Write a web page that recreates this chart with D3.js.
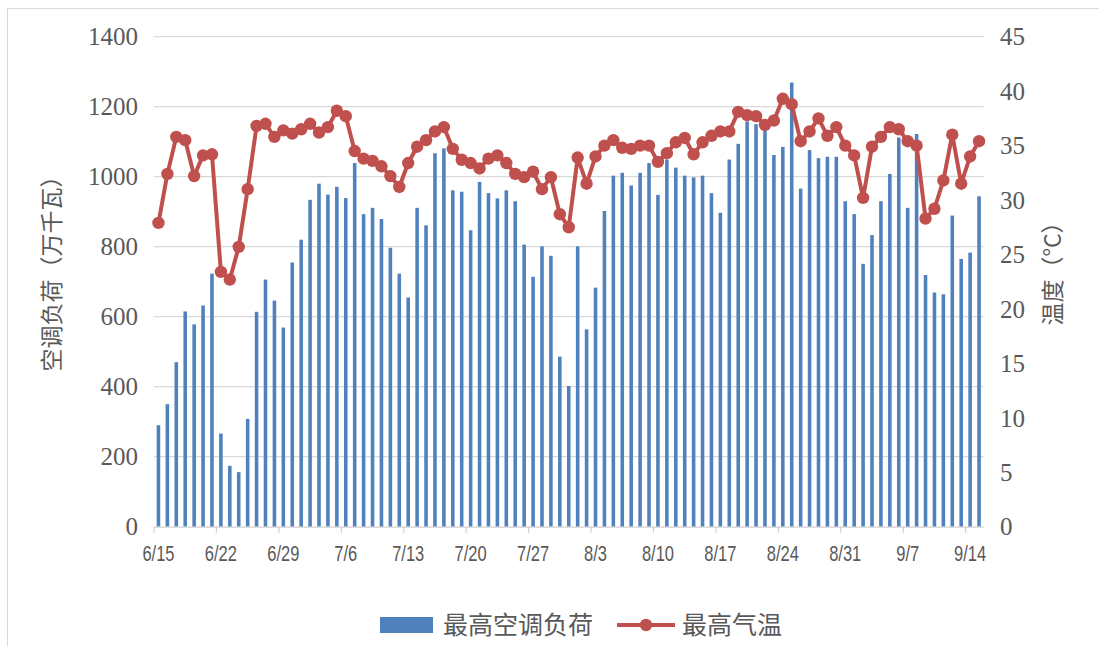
<!DOCTYPE html>
<html><head><meta charset="utf-8">
<script src="https://cdn.jsdelivr.net/npm/d3@7/dist/d3.min.js"></script>
<style>html,body{margin:0;padding:0;background:#fff;}svg{display:block;}</style>
</head><body>
<svg id="chart" width="1099" height="646"></svg>
<script>
const categories = ["6/15","6/16","6/17","6/18","6/19","6/20","6/21","6/22","6/23","6/24","6/25","6/26","6/27","6/28","6/29","6/30",
"7/1","7/2","7/3","7/4","7/5","7/6","7/7","7/8","7/9","7/10","7/11","7/12","7/13","7/14","7/15","7/16","7/17","7/18","7/19","7/20","7/21","7/22","7/23","7/24","7/25","7/26","7/27","7/28","7/29","7/30","7/31",
"8/1","8/2","8/3","8/4","8/5","8/6","8/7","8/8","8/9","8/10","8/11","8/12","8/13","8/14","8/15","8/16","8/17","8/18","8/19","8/20","8/21","8/22","8/23","8/24","8/25","8/26","8/27","8/28","8/29","8/30","8/31",
"9/1","9/2","9/3","9/4","9/5","9/6","9/7","9/8","9/9","9/10","9/11","9/12","9/13","9/14","9/15"];
const loadValues = [290,350,470,615,578,632,723,266,174,156,308,614,706,646,569,755,820,934,980,949,
971,939,1039,893,911,879,797,723,655,911,861,1067,1081,961,957,847,985,953,938,961,
930,806,714,801,774,486,402,801,564,683,902,1003,1011,975,1011,1039,948,1049,1026,1003,
998,1003,953,897,1049,1094,1158,1150,1136,1062,1085,1269,966,1076,1053,1057,1057,930,893,751,
833,930,1008,1112,911,1122,719,669,664,889,765,783,944];
const tempValues = [27.9,32.4,35.8,35.5,32.2,34.1,34.2,23.4,22.7,25.7,31.0,36.8,37.0,35.8,36.4,36.1,36.5,37.0,36.2,36.7,
38.2,37.7,34.5,33.8,33.6,33.1,32.2,31.2,33.4,34.9,35.5,36.3,36.7,34.7,33.7,33.4,32.9,33.8,34.1,33.4,
32.4,32.1,32.6,31.0,32.1,28.7,27.5,33.9,31.5,34.0,35.0,35.5,34.8,34.7,35.0,35.0,33.5,34.3,35.3,35.7,
34.2,35.3,35.9,36.3,36.3,38.1,37.8,37.7,36.9,37.3,39.3,38.8,35.4,36.3,37.5,35.9,36.7,35.0,34.1,30.2,
34.9,35.8,36.7,36.5,35.4,35.0,28.3,29.2,31.8,36.0,31.5,34.0,35.4];
const xTickLabels = ["6/15","6/22","6/29","7/6","7/13","7/20","7/27","8/3","8/10","8/17","8/24","8/31","9/7","9/14"];
const leftTicks = [0,200,400,600,800,1000,1200,1400];
const rightTicks = [0,5,10,15,20,25,30,35,40,45];
const seriesNames = ["最高空调负荷","最高气温"];
const leftTitle = "空调负荷（万千瓦）";
const rightTitle = "温度（°C）";

const W = 1099, H = 646;
const L = 154, R = 983.5, T = 36.7, B = 526.7;
const blue = "#4f81bd", red = "#c0504d", txt = "#595959", grid = "#d9d9d9";

const svg = d3.select("#chart");
// outer frame
svg.append("rect").attr("x",7.5).attr("y",8.5).attr("width",W+10).attr("height",H+10)
  .attr("fill","none").attr("stroke","#d9d9d9").attr("stroke-width",1);

const x = d3.scaleBand().domain(categories).range([L,R]).padding(0);
const yL = d3.scaleLinear().domain([0,1400]).range([B,T]);
const yR = d3.scaleLinear().domain([0,45]).range([B,T]);

// gridlines
svg.append("g").selectAll("line").data(leftTicks.filter(d=>d>0)).join("line")
  .attr("x1",L).attr("x2",R).attr("y1",d=>yL(d)).attr("y2",d=>yL(d))
  .attr("stroke",grid).attr("stroke-width",1.2);

// bars
const bw = x.bandwidth()*0.4;
svg.append("g").selectAll("rect").data(categories).join("rect")
  .attr("x",(d)=>x(d)+x.bandwidth()/2-bw/2)
  .attr("y",(d,i)=>yL(loadValues[i]))
  .attr("width",bw)
  .attr("height",(d,i)=>B-yL(loadValues[i]))
  .attr("fill",blue);

// x axis line
svg.append("line").attr("x1",L).attr("x2",R).attr("y1",B+0.5).attr("y2",B+0.5)
  .attr("stroke","#d0d0d0").attr("stroke-width",1.2);
// x ticks at category boundaries every 7
const tickIdx = xTickLabels.map(l=>categories.indexOf(l));
svg.append("g").selectAll("line").data(tickIdx).join("line")
  .attr("x1",i=>x(categories[i])).attr("x2",i=>x(categories[i]))
  .attr("y1",B).attr("y2",B+6).attr("stroke","#d0d0d0").attr("stroke-width",1.2);
svg.append("g").selectAll("text").data(xTickLabels).join("text")
  .attr("transform",d=>`translate(${x(d)+x.bandwidth()/2},561) scale(0.75,1)`)
  .attr("text-anchor","middle")
  .attr("font-family","'Liberation Sans',Arial,sans-serif")
  .attr("font-size",22).attr("fill",txt).text(d=>d);

// left axis labels
svg.append("g").selectAll("text").data(leftTicks).join("text")
  .attr("x",138).attr("y",d=>yL(d)).attr("dy","0.35em")
  .attr("text-anchor","end")
  .attr("font-family","'Liberation Serif',serif").attr("font-size",25).attr("fill",txt).text(d=>d);
// right axis labels
svg.append("g").selectAll("text").data(rightTicks).join("text")
  .attr("x",1000).attr("y",d=>yR(d)).attr("dy","0.35em")
  .attr("text-anchor","start")
  .attr("font-family","'Liberation Serif',serif").attr("font-size",25).attr("fill",txt).text(d=>d);

// axis titles
svg.append("text").attr("transform","translate(60,268) rotate(-90)")
  .attr("text-anchor","middle").attr("font-family","'Noto Sans CJK SC',sans-serif")
  .attr("font-size",23).attr("fill",txt).text(leftTitle);
svg.append("text").attr("transform","translate(1061,268) rotate(-90)")
  .attr("text-anchor","middle").attr("font-family","'Noto Sans CJK SC',sans-serif")
  .attr("font-size",23).attr("fill",txt).text(rightTitle);

// temperature line
const line = d3.line().x((d,i)=>x(categories[i])+x.bandwidth()/2).y(d=>yR(d));
svg.append("path").datum(tempValues).attr("d",line)
  .attr("fill","none").attr("stroke",red).attr("stroke-width",4).attr("stroke-linejoin","round");
svg.append("g").selectAll("circle").data(tempValues).join("circle")
  .attr("cx",(d,i)=>x(categories[i])+x.bandwidth()/2).attr("cy",d=>yR(d))
  .attr("r",6.2).attr("fill",red);

// legend
const lg = svg.append("g");
lg.append("rect").attr("x",380).attr("y",617).attr("width",53).attr("height",16).attr("fill",blue);
lg.append("text").attr("x",443).attr("y",634).attr("font-family","'Noto Sans CJK SC',sans-serif")
  .attr("font-size",25).attr("fill",txt).text(seriesNames[0]);
lg.append("line").attr("x1",617).attr("x2",675).attr("y1",625).attr("y2",625)
  .attr("stroke",red).attr("stroke-width",4);
lg.append("circle").attr("cx",646).attr("cy",625).attr("r",6.2).attr("fill",red);
lg.append("text").attr("x",682).attr("y",634).attr("font-family","'Noto Sans CJK SC',sans-serif")
  .attr("font-size",25).attr("fill",txt).text(seriesNames[1]);
</script>
</body></html>
